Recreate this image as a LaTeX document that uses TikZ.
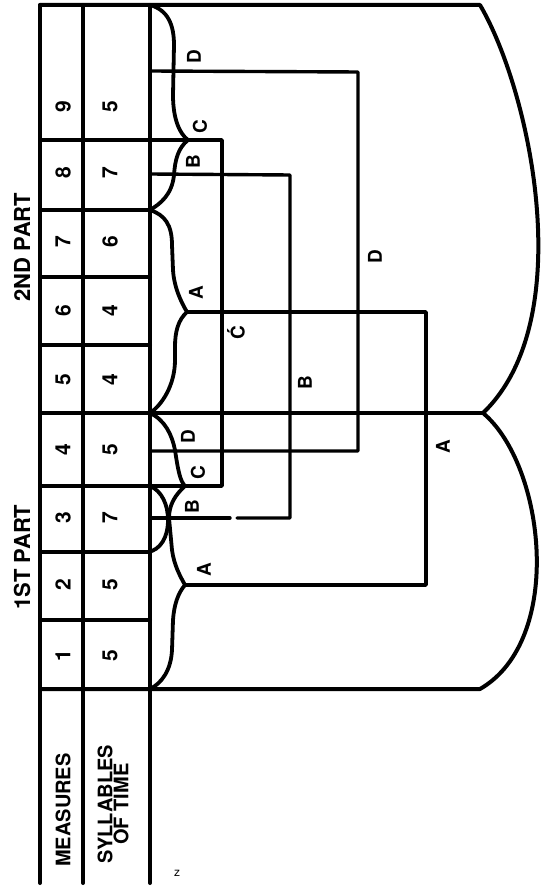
\documentclass[tikz,border=0pt]{standalone}
\usepackage{fontspec}
\setmainfont{TeX Gyre Heros}
\begin{document}
\begin{tikzpicture}[x=0.5pt,y=-0.5pt,line join=round,line cap=round,
  tbl/.style={line width=2pt},
  lnk/.style={line width=1.7pt},
  brc/.style={line width=1.9pt},
  lab/.style={font=\bfseries\fontsize{9.5}{9.5}\selectfont,rotate=90,inner sep=0pt},
  num/.style={font=\bfseries\fontsize{10.5}{10.5}\selectfont,rotate=90,inner sep=0pt},
  head/.style={font=\bfseries\fontsize{10}{8}\selectfont,rotate=90,inner sep=0pt,align=center},
  part/.style={font=\bfseries\fontsize{11}{11}\selectfont,rotate=90,inner sep=0pt}]
\useasboundingbox (0,0) rectangle (544,887);

% key points
\coordinate (cD2) at (188,140);   % C point, 2nd part
\coordinate (cA2) at (187,312);   % A cusp, 2nd part
\coordinate (cD1) at (185,486);   % C point, 1st part
\coordinate (cA1) at (185,585);   % A cusp, 1st part
\coordinate (cusp) at (483,413);

% table
\draw[tbl] (40,5) -- (40,883);
\draw[tbl] (83,5) -- (83,883);
\draw[tbl] (150,5) -- (150,883);
\foreach \yy in {140,210,277,345,486,552,620}
  \draw[tbl] (40,\yy) -- (150,\yy);
\draw[tbl] (40,413) -- (cusp);
\draw[tbl] (40,5) -- (480,5) .. controls (530,90) and (580,320) .. (cusp)
  .. controls (545,465) and (565,640) .. (480,689) -- (40,689);

% connectors
\draw[lnk] (cA2) -- (426,312) -- (426,585) -- (cA1);
\draw[lnk] (150,174) -- (290,175) -- (290,518) -- (237,518);
\draw[lnk] (230,518) -- (150,518);
\draw[lnk] (150,140) -- (222,140) -- (222,486) -- (150,486);
\draw[lnk] (150,71) -- (358,72) -- (358,451) -- (150,451);

% braces, 2nd part
\draw[brc] (150,5) .. controls (168,10) and (174,25) .. (174,45) -- (173,95)
  .. controls (173,120) and (180,134) .. (cD2);
\draw[brc] (cD2) .. controls (178,148) and (175,160) .. (174,175)
  .. controls (172,195) and (160,204) .. (150,210);
\draw[brc] (150,210) .. controls (165,215) and (172,225) .. (172,245) -- (173,270)
  .. controls (174,287) and (181,302) .. (cA2)
  .. controls (178,320) and (175,332) .. (175,347) -- (175,360)
  .. controls (175,385) and (162,405) .. (150,413);
% braces, 1st part
\draw[brc] (150,413) .. controls (165,420) and (172,435) .. (175,450)
  .. controls (178,470) and (180,481) .. (cD1);
\draw[brc] (cD1) .. controls (175,495) and (169,505) .. (169,518) -- (172,550)
  .. controls (174,565) and (180,576) .. (cA1)
  .. controls (178,593) and (174,605) .. (173,620) -- (172,650)
  .. controls (171,670) and (162,683) .. (150,689);
\draw[brc] (150,486) .. controls (162,491) and (168,505) .. (168,520)
  .. controls (168,538) and (160,550) .. (148,552);

% headings
\node[part] (p2) at (22,247) {2ND PART};
\node[part] (p1) at (22,557) {1ST PART};
\node[head] (hm) at (63,810) {MEASURES};
\node[head] (hs) at (113,804) {SYLLABLES\\OF TIME};

% numbers
\foreach \n/\yy/\s in {9/107/5,8/173/7,7/242/6,6/311/4,5/380/4,4/450/5,3/518/7,2/585/5,1/656/5}{
  \node[num] (m\n) at (63,\yy) {\n};
  \node[num] (s\n) at (110,\yy) {\s};
}

% letter labels
\node[lab] (lD2) at (194,57) {D};
\node[lab] (lC2) at (200,127) {C};
\node[lab] (lB2) at (193,162) {B};
\node[lab] (lA2) at (196,293) {A};
\node[lab] (lD1) at (188,437) {D};
\node[lab] (lC1) at (198,473) {C};
\node[lab] (lB1) at (192,507) {B};
\node[lab] (lA1) at (204,570) {A};
\node[lab] (xD) at (375,257) {D};
\node[lab] (xC) at (236,333) {\'C};
\node[lab] (xB) at (305,383) {B};
\node[lab] (xA) at (443,447) {A};

\node[font=\fontsize{6}{6}\selectfont,inner sep=0pt] (mk) at (177,873) {z};
\end{tikzpicture}
\end{document}
